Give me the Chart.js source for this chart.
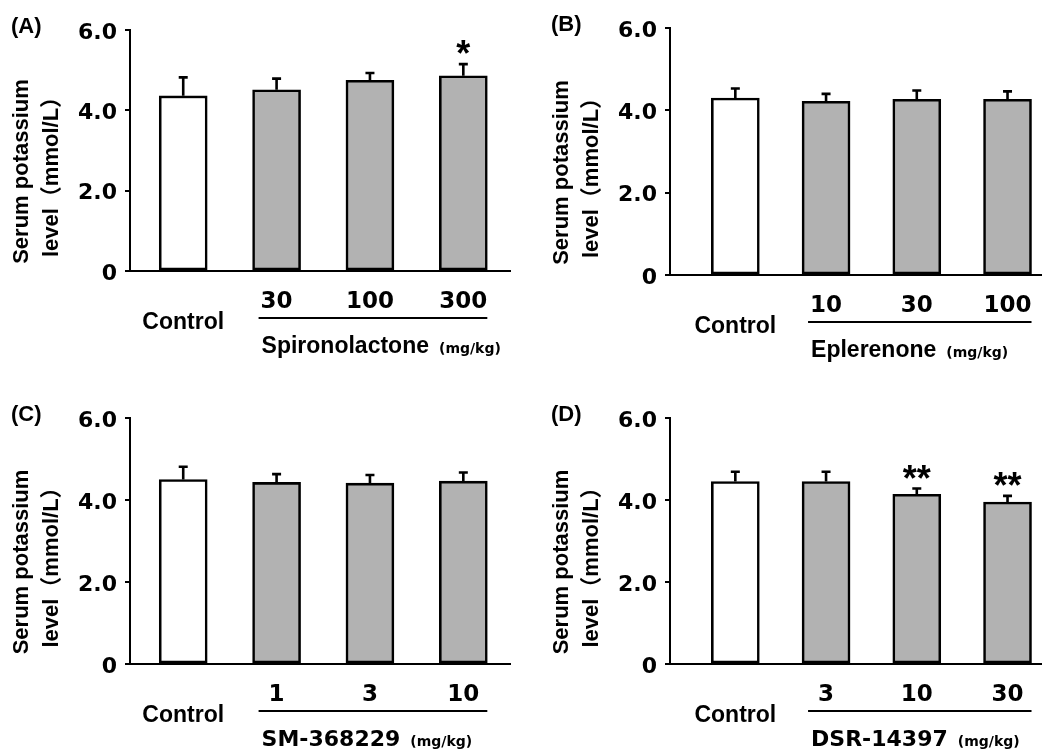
<!DOCTYPE html>
<html>
<head>
<meta charset="utf-8">
<script src="https://cdn.jsdelivr.net/npm/chart.js@4/dist/chart.umd.min.js"></script>
<style>
  body { margin: 0; background: #fff; }
  #wrap { position: relative; width: 1042px; height: 751px; overflow: hidden; }
  canvas { position: absolute; }
</style>
</head>
<body>
<div id="wrap">
  <canvas id="cA" width="520" height="375" style="left:0;top:0"></canvas>
  <canvas id="cB" width="522" height="375" style="left:520px;top:0"></canvas>
  <canvas id="cC" width="520" height="376" style="left:0;top:375px"></canvas>
  <canvas id="cD" width="522" height="376" style="left:520px;top:375px"></canvas>
</div>
<script>
/* Serum potassium, mean + SEM, control vs three doses of each drug */
const controlLabel = 'Control';
const unitLabel = '(mg/kg)';
const yTitle = ['Serum potassium', 'level（mmol/L）'];
const yTickLabels = ['0', '2.0', '4.0', '6.0'];
const panelTags = ['(A)', '(B)', '(C)', '(D)'];
const drugNames = ['Spironolactone', 'Eplerenone', 'SM-368229', 'DSR-14397'];

const dosesA = ['30', '100', '300'];
const meansA = [4.36, 4.51, 4.75, 4.86];
const semA = [0.46, 0.28, 0.18, 0.29];
const marksA = ['', '', '', '*'];

const dosesB = ['10', '30', '100'];
const meansB = [4.30, 4.22, 4.27, 4.27];
const semB = [0.23, 0.18, 0.21, 0.19];
const marksB = ['', '', '', ''];

const dosesC = ['1', '3', '10'];
const meansC = [4.50, 4.43, 4.41, 4.46];
const semC = [0.31, 0.20, 0.20, 0.21];
const marksC = ['', '', '', ''];

const dosesD = ['3', '10', '30'];
const meansD = [4.45, 4.45, 4.14, 3.95];
const semD = [0.24, 0.24, 0.14, 0.15];
const marksD = ['', '', '**', '**'];

const WORD = '"Liberation Sans", "Noto Sans CJK JP", sans-serif';
const NUM = '"DejaVu Sans", sans-serif';

// error bars, asterisks, dose labels, drug name, panel tag, y title
const decor = {
  id: 'decor',
  afterDraw(chart, args, o) {
    const ctx = chart.ctx, area = chart.chartArea, y = chart.scales.y;
    const bars = chart.getDatasetMeta(0).data;
    ctx.save();
    ctx.strokeStyle = '#000';
    ctx.fillStyle = '#000';

    ctx.lineWidth = 2.6;
    bars.forEach((b, i) => {
      const top = y.getPixelForValue(o.means[i] + o.sem[i]);
      ctx.beginPath();
      ctx.moveTo(b.x, b.y);
      ctx.lineTo(b.x, top);
      ctx.moveTo(b.x - 4.5, top);
      ctx.lineTo(b.x + 4.5, top);
      ctx.stroke();
      if (o.marks[i]) {
        ctx.font = 'bold 36px ' + WORD;
        ctx.textAlign = 'center';
        ctx.textBaseline = 'alphabetic';
        const m = ctx.measureText(o.marks[i]);
        const mid = (m.actualBoundingBoxAscent - m.actualBoundingBoxDescent) / 2;
        ctx.fillText(o.marks[i], b.x, top - 17 + mid);
      }
    });

    ctx.textBaseline = 'alphabetic';
    ctx.textAlign = 'center';
    ctx.font = 'bold 23px ' + NUM;
    o.doses.forEach((d, i) => ctx.fillText(d, bars[i + 1].x, area.bottom + 37));
    ctx.font = 'bold 23px ' + WORD;
    ctx.fillText(controlLabel, bars[0].x, area.bottom + 58);

    ctx.lineWidth = 2;
    ctx.beginPath();
    ctx.moveTo(bars[1].x - 18, area.bottom + 47);
    ctx.lineTo(bars[3].x + 24, area.bottom + 47);
    ctx.stroke();

    ctx.textAlign = 'left';
    ctx.font = o.nameFont;
    const x0 = bars[1].x - 15;
    ctx.fillText(o.drug, x0, area.bottom + 82);
    const w = ctx.measureText(o.drug).width;
    ctx.font = 'bold 14px ' + NUM;
    ctx.fillText(unitLabel, x0 + w + 10, area.bottom + 82);

    ctx.font = 'bold 22px ' + WORD;
    ctx.textBaseline = 'middle';
    ctx.fillText(o.tag, area.left - 119, area.top - 3);

    ctx.font = 'bold 22px ' + WORD;
    ctx.textAlign = 'center';
    const cy = (area.top + area.bottom) / 2 + 21;
    [area.left - 108, area.left - 78].forEach((tx, k) => {
      ctx.save();
      ctx.translate(tx, cy);
      ctx.rotate(-Math.PI / 2);
      ctx.fillText(yTitle[k], 0, 0);
      ctx.restore();
    });
    ctx.restore();
  }
};

function makeChart(id, frame, tag, drug, doses, means, sem, marks, nameFont) {
  const canvas = document.getElementById(id);
  const H = canvas.height;
  return new Chart(canvas, {
    type: 'bar',
    data: {
      datasets: [{
        data: means.map((v, i) => ({ x: i, y: v })),
        backgroundColor: means.map((v, i) => i === 0 ? '#ffffff' : '#b2b2b2'),
        borderColor: '#000',
        borderWidth: 2.6,
        borderSkipped: false,
        barThickness: 48
      }]
    },
    options: {
      responsive: false,
      devicePixelRatio: 1,
      animation: false,
      layout: { padding: { left: 0, top: frame.top, right: frame.right, bottom: 0 } },
      plugins: {
        legend: { display: false },
        tooltip: { enabled: false },
        decor: { tag, drug, doses, means, sem, marks, nameFont }
      },
      scales: {
        x: {
          type: 'linear',
          offset: false,
          min: frame.xmin,
          max: frame.xmax,
          ticks: { display: false },
          grid: { display: false },
          border: { display: true, color: '#000', width: 2 },
          afterFit: s => { s.height = H - frame.bottom; }
        },
        y: {
          min: 0,
          max: 6,
          ticks: {
            stepSize: 2,
            padding: 8,
            labelOffset: 3,
            color: '#000',
            font: { family: 'DejaVu Sans', weight: 'bold', size: 22 },
            callback: v => yTickLabels[v / 2]
          },
          grid: { drawOnChartArea: false, drawTicks: true, tickLength: 5, color: '#000', lineWidth: 2 },
          border: { display: true, color: '#000', width: 2 },
          afterFit: s => { s.width = frame.left; }
        }
      }
    },
    plugins: [decor]
  });
}

const wordFont = 'bold 23px ' + WORD;
const codeFont = 'bold 22px ' + NUM;

makeChart('cA', { left: 130, top: 30, right: 10, bottom: 271, xmin: -0.57, xmax: 3.5 },
  panelTags[0], drugNames[0], dosesA, meansA, semA, marksA, wordFont);
makeChart('cB', { left: 150, top: 28, right: 0, bottom: 275, xmin: -0.72, xmax: 3.38 },
  panelTags[1], drugNames[1], dosesB, meansB, semB, marksB, wordFont);
makeChart('cC', { left: 130, top: 43, right: 10, bottom: 289, xmin: -0.57, xmax: 3.5 },
  panelTags[2], drugNames[2], dosesC, meansC, semC, marksC, codeFont);
makeChart('cD', { left: 150, top: 43, right: 0, bottom: 289, xmin: -0.72, xmax: 3.38 },
  panelTags[3], drugNames[3], dosesD, meansD, semD, marksD, codeFont);
</script>
</body>
</html>
